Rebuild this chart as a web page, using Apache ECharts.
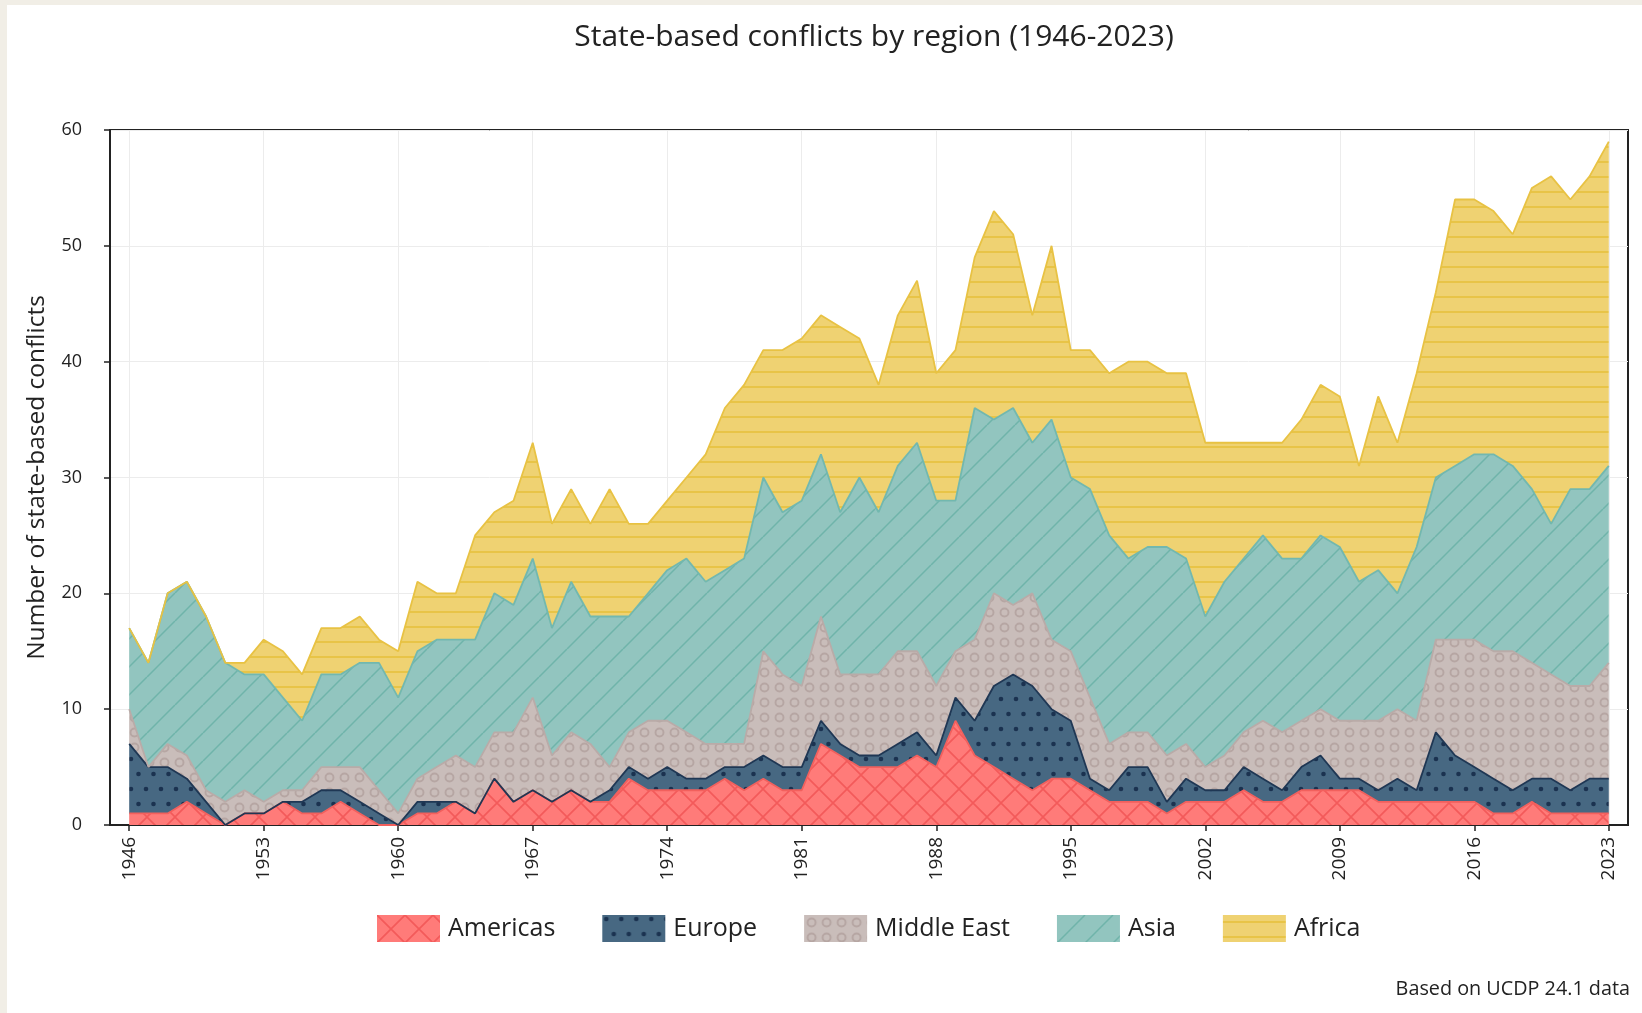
<!DOCTYPE html>
<html>
<head>
<meta charset="utf-8">
<title>State-based conflicts by region</title>
<script src="https://cdn.jsdelivr.net/npm/echarts@6/dist/echarts.min.js"></script>
<style>
  html, body { margin: 0; padding: 0; background: #f1eee6; }
  #chart { position: absolute; left: 7px; top: 5px; width: 1635px; height: 1008px; background: #fff; }
</style>
</head>
<body>
<div id="chart"></div>
<script>
// years 1946..2023
var years = [];
for (var y = 1946; y <= 2023; y++) years.push(String(y));

var tickYears = ['1946', '1953', '1960', '1967', '1974', '1981', '1988', '1995', '2002', '2009', '2016', '2023'];

var americas = [
  1, 1, 1, 2, 1, 0, 1, 1, 2, 1,
  1, 2, 1, 0, 0, 1, 1, 2, 1, 4,
  2, 3, 2, 3, 2, 2, 4, 3, 3, 3,
  3, 4, 3, 4, 3, 3, 7, 6, 5, 5,
  5, 6, 5, 9, 6, 5, 4, 3, 4, 4,
  3, 2, 2, 2, 1, 2, 2, 2, 3, 2,
  2, 3, 3, 3, 3, 2, 2, 2, 2, 2,
  2, 1, 1, 2, 1, 1, 1, 1
];
var europe = [
  6, 4, 4, 2, 1, 0, 0, 0, 0, 1,
  2, 1, 1, 1, 0, 1, 1, 0, 0, 0,
  0, 0, 0, 0, 0, 1, 1, 1, 2, 1,
  1, 1, 2, 2, 2, 2, 2, 1, 1, 1,
  2, 2, 1, 2, 3, 7, 9, 9, 6, 5,
  1, 1, 3, 3, 1, 2, 1, 1, 2, 2,
  1, 2, 3, 1, 1, 1, 2, 1, 6, 4,
  3, 3, 2, 2, 3, 2, 3, 3
];
var middleEast = [
  3, 0, 2, 2, 1, 2, 2, 1, 1, 1,
  2, 2, 3, 2, 1, 2, 3, 4, 4, 4,
  6, 8, 4, 5, 5, 2, 3, 5, 4, 4,
  3, 2, 2, 9, 8, 7, 9, 6, 7, 7,
  8, 7, 6, 4, 7, 8, 6, 8, 6, 6,
  7, 4, 3, 3, 4, 3, 2, 3, 3, 5,
  5, 4, 4, 5, 5, 6, 6, 6, 8, 10,
  11, 11, 12, 10, 9, 9, 8, 10
];
var asia = [
  7, 9, 13, 15, 15, 12, 10, 11, 8, 6,
  8, 8, 9, 11, 10, 11, 11, 10, 11, 12,
  11, 12, 11, 13, 11, 13, 10, 11, 13, 15,
  14, 15, 16, 15, 14, 16, 14, 14, 17, 14,
  16, 18, 16, 13, 20, 15, 17, 13, 19, 15,
  18, 18, 15, 16, 18, 16, 13, 15, 15, 16,
  15, 14, 15, 15, 12, 13, 10, 15, 14, 15,
  16, 17, 16, 15, 13, 17, 17, 17
];
var africa = [
  0, 0, 0, 0, 0, 0, 1, 3, 4, 4,
  4, 4, 4, 2, 4, 6, 4, 4, 9, 7,
  9, 10, 9, 8, 8, 11, 8, 6, 6, 7,
  11, 14, 15, 11, 14, 14, 12, 16, 12, 11,
  13, 14, 11, 13, 13, 18, 15, 11, 15, 11,
  12, 14, 17, 16, 15, 16, 15, 12, 10, 8,
  10, 12, 13, 13, 10, 15, 13, 15, 16, 23,
  22, 21, 20, 26, 30, 25, 27, 28
];

// one empty slot each side so the frame sits a little outside 1946 and 2023
var categories = ['1945'].concat(years, ['2024']);
function padded(vals) {
  return ['-'].concat(vals, ['-']);
}
function isTickYear(index, value) {
  return tickYears.indexOf(String(value)) >= 0;
}

// small canvas tiles used as fill patterns
function makePattern(w, h, bg, draw) {
  var c = document.createElement('canvas');
  c.width = w; c.height = h;
  var ctx = c.getContext('2d');
  ctx.fillStyle = bg;
  ctx.fillRect(0, 0, w, h);
  draw(ctx, w, h);
  return { image: c, repeat: 'repeat' };
}

var crossFill = makePattern(28, 28, '#ff7b79', function (ctx, w, h) {
  ctx.strokeStyle = '#f35a5a';
  ctx.lineWidth = 1.6;
  [-w, 0, w].forEach(function (dx) {
    ctx.beginPath();
    ctx.moveTo(dx, 0); ctx.lineTo(dx + w, h);
    ctx.moveTo(dx + w, 0); ctx.lineTo(dx, h);
    ctx.stroke();
  });
});

var dotFill = makePattern(15, 30, '#476882', function (ctx) {
  ctx.fillStyle = '#1b3250';
  [[4, 4], [11.5, 19]].forEach(function (p) {
    ctx.beginPath();
    ctx.arc(p[0], p[1], 2.3, 0, Math.PI * 2);
    ctx.fill();
  });
});

var ringFill = makePattern(15, 15, '#c9bdba', function (ctx) {
  ctx.strokeStyle = '#b6a6a3';
  ctx.lineWidth = 1.9;
  ctx.beginPath();
  ctx.arc(7.5, 7.5, 4, 0, Math.PI * 2);
  ctx.stroke();
});

var diagFill = makePattern(28, 28, '#92c5bf', function (ctx, w, h) {
  ctx.strokeStyle = '#6fb4aa';
  ctx.lineWidth = 1.5;
  [-w, 0, w].forEach(function (dx) {
    ctx.beginPath();
    ctx.moveTo(dx, h); ctx.lineTo(dx + w, 0);
    ctx.stroke();
  });
});

var stripeFill = makePattern(10, 15, '#efd272', function (ctx, w) {
  ctx.fillStyle = '#e8c447';
  ctx.fillRect(0, 6, w, 2);
});

var regions = [
  { name: 'Americas', data: americas, fill: crossFill, line: '#f2605d' },
  { name: 'Europe', data: europe, fill: dotFill, line: '#1f3754' },
  { name: 'Middle East', data: middleEast, fill: ringFill, line: '#b9aba8' },
  { name: 'Asia', data: asia, fill: diagFill, line: '#72b8af' },
  { name: 'Africa', data: africa, fill: stripeFill, line: '#e8c243' }
];

var chart = echarts.init(document.getElementById('chart'));

var option = {
  animation: false,
  textStyle: { fontFamily: 'Open Sans', color: '#222' },
  title: [{
    text: 'State-based conflicts by region (1946-2023)',
    left: 862, top: 12, textAlign: 'center',
    textStyle: { fontSize: 30, fontWeight: 'normal', color: '#222', fontFamily: 'Open Sans' }
  }, {
    text: 'Based on UCDP 24.1 data',
    left: 1618, top: 969, textAlign: 'right',
    textStyle: { fontSize: 19.8, fontWeight: 'normal', color: '#222', fontFamily: 'Open Sans' }
  }],
  legend: {
    left: 370, top: 910,
    padding: 0,
    itemWidth: 63, itemHeight: 27, itemGap: 47,
    icon: 'rect',
    textStyle: { fontSize: 25, color: '#222', padding: [0, 0, 0, 3] },
    data: regions.map(function (r) {
      return { name: r.name, itemStyle: { color: r.fill, borderWidth: 0 }, lineStyle: { width: 0 } };
    })
  },
  grid: {
    left: 103, right: 14, top: 125, bottom: 188,
    show: true, borderColor: '#222', borderWidth: 2, backgroundColor: 'transparent'
  },
  xAxis: {
    type: 'category', boundaryGap: false, data: categories,
    axisLine: { show: true, onZero: false, lineStyle: { color: '#222', width: 2 } },
    axisTick: { show: true, interval: isTickYear, length: 6, lineStyle: { color: '#222', width: 1.5 } },
    axisLabel: { interval: isTickYear, rotate: 90, margin: 12, fontSize: 19, color: '#222' },
    splitLine: { show: true, interval: isTickYear, lineStyle: { color: '#ececec' } }
  },
  yAxis: {
    type: 'value', min: 0, max: 60, interval: 10,
    name: 'Number of state-based conflicts',
    nameLocation: 'middle', nameGap: 60,
    nameTextStyle: { fontSize: 24.5, color: '#222' },
    axisLine: { show: true, lineStyle: { color: '#222', width: 2 } },
    axisTick: { show: true, length: 6, lineStyle: { color: '#222', width: 1.5 } },
    axisLabel: { fontSize: 18, margin: 28, color: '#222' },
    splitLine: { show: true, lineStyle: { color: '#ececec' } }
  },
  series: regions.map(function (r) {
    return {
      name: r.name,
      type: 'line',
      stack: 'total',
      symbol: 'none',
      data: padded(r.data),
      lineStyle: { color: r.line, width: 1.8 },
      itemStyle: { color: r.line },
      areaStyle: { color: r.fill, opacity: 1 }
    };
  })
};

chart.setOption(option);
</script>
</body>
</html>
